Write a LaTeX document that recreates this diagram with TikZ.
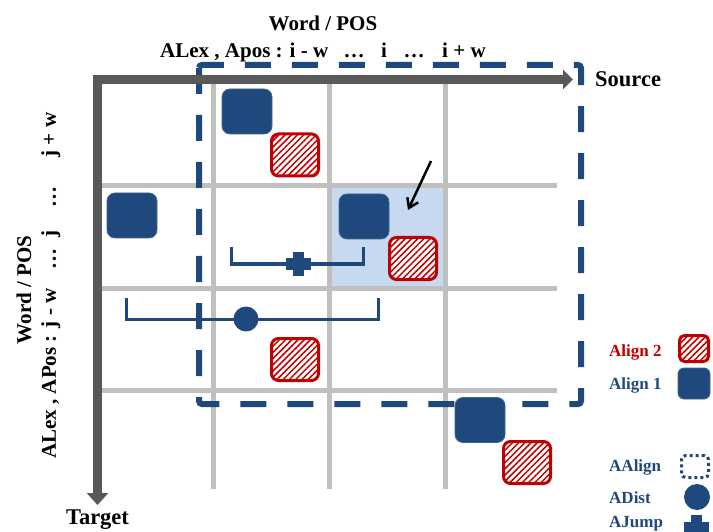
\documentclass[tikz,border=0pt]{standalone}
\usepackage{fontspec}
\setmainfont{Liberation Serif}
\usetikzlibrary{arrows.meta,patterns.meta}
\definecolor{dblue}{HTML}{1F497D}
\definecolor{dred}{HTML}{C00000}
\definecolor{lblue}{HTML}{C6D9F1}
\definecolor{gridgray}{HTML}{BFBFBF}
\definecolor{axgray}{HTML}{595959}
\begin{document}
\begin{tikzpicture}[x=1pt,y=-1pt,
  bluebox/.style={fill=dblue, draw=dblue!85!white, line width=0.8pt, rounded corners=8pt, minimum width=50pt, minimum height=45pt, inner sep=0pt},
  redbox/.style={draw=dred, line width=3pt, rounded corners=7pt, preaction={fill=white},
     pattern={Lines[angle=45,distance=4.4pt,line width=1.5pt]}, pattern color=dred,
     minimum width=47pt, minimum height=42pt, inner sep=0pt},
  gridline/.style={draw=gridgray, line width=5pt},
  axisline/.style={draw=axgray, line width=9pt, line join=miter},
  alignbox/.style={draw=dblue, line width=6pt, dash pattern=on 26pt off 21pt, rounded corners=3pt},
  bracket/.style={draw=dblue, line width=3pt},
  bigtxt/.style={font=\fontsize{21}{25}\selectfont\bfseries, inner sep=0pt},
  axtxt/.style={font=\fontsize{22.5}{27}\selectfont\bfseries, inner sep=0pt},
  legtxt/.style={font=\fontsize{17}{20}\selectfont\bfseries, inner sep=0pt, anchor=west},
  plusmark/.pic={\fill[dblue] (-12.5,-5.5) rectangle (12.5,5.5); \fill[dblue] (-5.5,-12) rectangle (5.5,12);},
]
\useasboundingbox (0,0) rectangle (713,532);

% highlighted cell
\fill[lblue] (330,188) rectangle (444,286);

% grid
\foreach \x in {213,329,445} \draw[gridline] (\x,84) -- (\x,489);
\foreach \y in {186,288,390} \draw[gridline] (102,\y) -- (557,\y);

% AAlign window
\draw[alignbox] (199,65) rectangle (581,404);

% axes
\coordinate (xend) at (573,79.5);
\coordinate (O) at (97.5,79.5);
\coordinate (yend) at (97.5,505);
\draw[axisline, {Triangle[width=19pt,length=10pt]}-{Triangle[width=21pt,length=12pt]}] (xend) -- (O) -- (yend);

\node[axtxt, anchor=base west] (src) at (595,87) {Source};
\node[axtxt, anchor=base] (tgt) at (97.5,524) {Target};

% top labels
\node[bigtxt, anchor=base] (wpt) at (323,31) {Word / POS};
\node[bigtxt, anchor=base west] (t1) at (160,58) {ALex , Apos : i - w};
\node[bigtxt, anchor=base] (t2) at (354,58) {…};
\node[bigtxt, anchor=base] (t3) at (384,58) {i};
\node[bigtxt, anchor=base] (t4) at (414,58) {…};
\node[bigtxt, anchor=base west] (t5) at (442,58) {i + w};

% left labels
\node[bigtxt, rotate=90, anchor=base] (wpl) at (31,290) {Word / POS};
\node[bigtxt, rotate=90, anchor=base west] (l1) at (56,459) {ALex , APos : j - w};
\node[bigtxt, rotate=90, anchor=base] (l2) at (56,259) {…};
\node[bigtxt, rotate=90, anchor=base] (l3) at (56,234) {j};
\node[bigtxt, rotate=90, anchor=base] (l4) at (56,197) {…};
\node[bigtxt, rotate=90, anchor=base] (l5) at (56,135) {j + w};

% brackets
\draw[bracket] (126,298) -- (126,319) -- (378,319) -- (378,298);
\node[circle, fill=dblue, minimum size=25pt, inner sep=0pt] (dist) at (246,319) {};
\draw[bracket] (231,247) -- (231,264) -- (363,264) -- (363,247);
\pic (jump) at (298,264) {plusmark};

% alignments
\node[bluebox] (b1) at (247,111.5) {};
\node[redbox] (r1) at (295,155) {};
\node[bluebox] (b2) at (132,215.5) {};
\node[bluebox] (b3) at (364,216.5) {};
\node[redbox] (r2) at (413,258.5) {};
\node[redbox] (r3) at (295,359.5) {};
\node[bluebox] (b4) at (480,420) {};
\node[redbox] (r4) at (527,462.5) {};

% pointer arrow
\coordinate (pstart) at (431,161);
\coordinate (pend) at (408,210);
\draw[line width=2.5pt, -{Straight Barb[length=9pt,width=12pt]}] (pstart) -- (pend);

% legend
\node[legtxt, text=dred] (la2) at (609,352) {Align 2};
\node[redbox, minimum width=29pt, minimum height=26pt, rounded corners=5pt] (ka2) at (694,348.5) {};
\node[legtxt, text=dblue] (la1) at (609,385) {Align 1};
\node[bluebox, minimum width=32pt, minimum height=31pt, rounded corners=6pt] (ka1) at (694,383.5) {};
\node[legtxt, text=dblue] (laa) at (609,467) {AAlign};
\node[draw=dblue, line width=3pt, dash pattern=on 3pt off 3pt, rounded corners=4pt, minimum width=27pt, minimum height=22pt, inner sep=0pt] (kaa) at (695,466.5) {};
\node[legtxt, text=dblue] (lad) at (609,498) {ADist};
\node[circle, fill=dblue, minimum size=26pt, inner sep=0pt] (kad) at (697,497) {};
\node[legtxt, text=dblue] (laj) at (609,524) {AJump};
\pic (kaj) at (696,527) {plusmark};
\end{tikzpicture}
\end{document}
